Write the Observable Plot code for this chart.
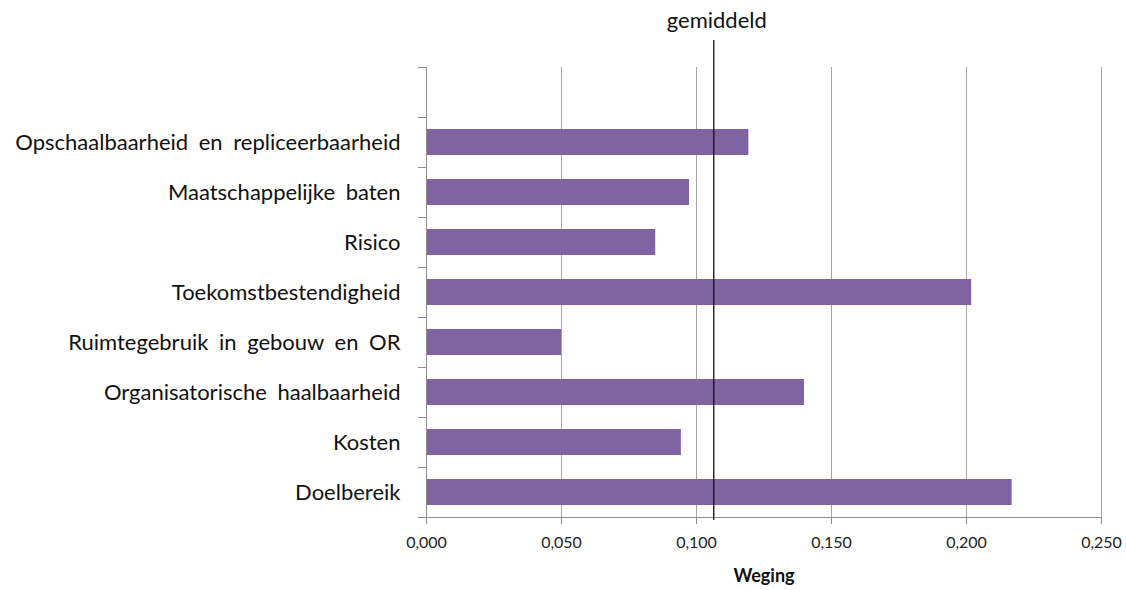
<!DOCTYPE html>
<html>
<head>
<meta charset="utf-8">
<script src="https://cdn.jsdelivr.net/npm/d3@7"></script>
<script src="https://cdn.jsdelivr.net/npm/@observablehq/plot@0.6"></script>
<style>
  html, body { margin: 0; padding: 0; background: #fff; }
  #chart svg { display: block; }
  #chart svg g[aria-label="y-axis tick label"] text { word-spacing: 5px; }
</style>
</head>
<body>
<div id="chart"></div>
<script>
const categories = [
  "Opschaalbaarheid en repliceerbaarheid",
  "Maatschappelijke baten",
  "Risico",
  "Toekomstbestendigheid",
  "Ruimtegebruik in gebouw en OR",
  "Organisatorische haalbaarheid",
  "Kosten",
  "Doelbereik"
];
const weights = [0.1194, 0.0974, 0.0849, 0.2019, 0.0500, 0.1400, 0.0944, 0.2169];
const average = 0.1064;
const xTicks = [0, 0.05, 0.10, 0.15, 0.20, 0.25];
const averageLabel = "gemiddeld";
const xLabel = "Weging";

const yDomain = [" ", ...categories];
const data = categories.map((c, i) => ({category: c, weight: weights[i]}));

const font = "Lato, 'Open Sans', sans-serif";
const axisColor = "#8c8c8c";

const chart = Plot.plot({
  width: 1126,
  height: 590,
  marginLeft: 426,
  marginRight: 25,
  marginTop: 67,
  marginBottom: 73,
  style: {fontFamily: font, background: "#fff"},
  x: {domain: [0, 0.25], ticks: xTicks},
  y: {domain: yDomain, padding: 0},
  marks: [
    Plot.gridX(xTicks, {stroke: "#a6a6a6", strokeOpacity: 1}),
    Plot.barX(data, {x: "weight", y: "category", fill: "#8064a2", insetTop: 12, insetBottom: 12}),
    Plot.ruleY(yDomain, {y: d => d, x1: 0, x2: 0, insetLeft: -8, dy: -25, stroke: axisColor}),
    Plot.ruleY(yDomain.slice(-1), {y: d => d, x1: 0, x2: 0.25, insetLeft: -8, dy: 25, stroke: axisColor}),
    Plot.axisX({
      ticks: xTicks,
      tickFormat: d => d.toFixed(3).replace(".", ","),
      tickSize: 7,
      tickPadding: 12,
      fontSize: 16,
      stroke: axisColor,
      color: "#222",
      label: null
    }),
    Plot.axisY({tickSize: 0, tickPadding: 26, fontSize: 22, color: "#111", label: null}),
    Plot.ruleX([0], {stroke: axisColor}),
    Plot.ruleX([average], {stroke: "#111", strokeWidth: 1.3, insetTop: -27, insetBottom: -3}),
    Plot.text([averageLabel], {x: average, frameAnchor: "top", dy: -55, dx: 3, fontSize: 22, fill: "#111"}),
    Plot.text([xLabel], {frameAnchor: "bottom", dy: 64, fontSize: 18, fontWeight: "bold", fill: "#111"})
  ]
});
document.getElementById("chart").append(chart);
</script>
</body>
</html>
